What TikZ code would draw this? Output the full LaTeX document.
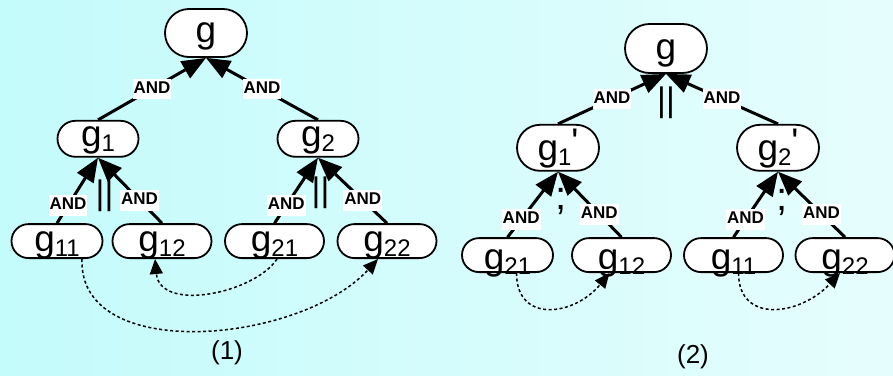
\documentclass[tikz,border=0pt]{standalone}
\usepackage{fontspec}
\setmainfont{Liberation Sans}
\usetikzlibrary{positioning,backgrounds,shapes.misc,arrows.meta}

\definecolor{bgleft}{RGB}{196,251,251}
\definecolor{bgright}{RGB}{230,253,253}

\newcommand{\gsub}[1]{\raisebox{-5pt}{\fontsize{24}{24}\selectfont #1}}
\newcommand{\gprime}{\raisebox{6pt}{\textquotesingle}}

\begin{document}
\begin{tikzpicture}[x=1pt,y=-1pt,
    goal/.style={rounded rectangle,draw,line width=1.8pt,fill=white,inner sep=0pt,
      text depth=2pt,font=\fontsize{37}{37}\selectfont},
    top/.style={goal,minimum width=82pt,minimum height=48pt,text height=20pt},
    mid/.style={goal,minimum width=81pt,minimum height=36pt,text height=18pt},
    leaf/.style={goal,minimum width=99pt,minimum height=34pt,text height=23pt},
    andedge/.style={line width=3pt,-{Triangle[length=24pt,width=19pt]}},
    andlabel/.style={fill=white,inner xsep=1pt,inner ysep=3pt,text depth=3pt,
      font=\fontsize{17}{17}\selectfont\bfseries},
    link/.style={line width=1.5pt,dash pattern=on 3pt off 2.5pt,
      -{Triangle[length=15pt,width=13pt]}},
    sign/.style={font=\fontsize{34}{34}\selectfont},
    figlabel/.style={font=\fontsize{26}{26}\selectfont}]
    \useasboundingbox (0,0) rectangle (893,375);

    % tree (1)
    \node[top] (g) at (206,33) {g};
    \node[mid,below=62pt of g,xshift=-108pt] (g1) {g\gsub{1}};
    \node[mid,below=62pt of g,xshift=112pt] (g2) {g\gsub{2}};
    \node[leaf,minimum width=91pt,below=65.5pt of g1,xshift=-41pt] (g11) {g\gsub{11}};
    \node[leaf,below=65.5pt of g1,xshift=64pt] (g12) {g\gsub{12}};
    \node[leaf,below=65.5pt of g2,xshift=-43.5pt] (g21) {g\gsub{21}};
    \node[leaf,below=65.5pt of g2,xshift=69pt] (g22) {g\gsub{22}};

    \draw[andedge] (g1.north) -- node[andlabel]{AND} (g.south);
    \draw[andedge] (g2.north) -- node[andlabel]{AND} (g.south);
    \draw[andedge] (g11.north) -- node[andlabel,pos=.27]{AND} (g1.south);
    \draw[andedge] (g12.north) -- node[andlabel,pos=.35]{AND} (g1.south);
    \draw[andedge] (g21.north) -- node[andlabel,pos=.27]{AND} (g2.south);
    \draw[andedge] (g22.north) -- node[andlabel,pos=.35]{AND} (g2.south);

    \node[sign] (par1) at (104.5,195.5) {||};
    \node[sign] (par2) at (320.5,192.5) {||};

    \draw[link] ([xshift=2.5pt]g21.south) .. controls +(-22,34) and +(5,54) .. ([xshift=-7pt]g12.south);
    \draw[link] ([xshift=25pt]g11.south) .. controls +(-4,105) and +(-78,85) .. ([xshift=-9pt]g22.south);

    \node[figlabel] (cap1) at (227,353) {(1)};

    % tree (2)
    \node[top,minimum height=49pt,text height=23pt] (gg) at (666,48.5) {g};
    \node[mid,minimum width=82pt,minimum height=46pt,text height=28pt,below=50pt of gg,xshift=-108pt] (gg1) {g\gsub{1}\gprime};
    \node[mid,minimum width=82pt,minimum height=46pt,text height=28pt,below=50pt of gg,xshift=112pt] (gg2) {g\gsub{2}\gprime};
    \node[leaf,minimum width=91pt,text height=30pt,below=65.5pt of gg1,xshift=-50.5pt] (gg21) {g\gsub{21}};
    \node[leaf,text height=30pt,below=65.5pt of gg1,xshift=63.5pt] (gg12) {g\gsub{12}};
    \node[leaf,text height=30pt,below=65.5pt of gg2,xshift=-44.5pt] (gg11) {g\gsub{11}};
    \node[leaf,text height=30pt,below=65.5pt of gg2,xshift=67pt] (gg22) {g\gsub{22}};

    \draw[andedge] (gg1.north) -- node[andlabel]{AND} (gg.south);
    \draw[andedge] (gg2.north) -- node[andlabel]{AND} (gg.south);
    \draw[andedge] (gg21.north) -- node[andlabel,pos=.27]{AND} (gg1.south);
    \draw[andedge] (gg12.north) -- node[andlabel,pos=.35]{AND} (gg1.south);
    \draw[andedge] (gg11.north) -- node[andlabel,pos=.27]{AND} (gg2.south);
    \draw[andedge] (gg22.north) -- node[andlabel,pos=.35]{AND} (gg2.south);

    \node[sign] (par3) at (666,102.5) {||};
    \node[sign,font=\fontsize{40}{40}\selectfont] (seq1) at (561,201) {;};
    \node[sign,font=\fontsize{40}{40}\selectfont] (seq2) at (782,202) {;};

    \draw[link] ([xshift=9pt]gg21.south) .. controls +(0,51) and +(-35,43) .. ([xshift=-12pt]gg12.south);
    \draw[link] ([xshift=5pt]gg11.south) .. controls +(0,51) and +(-40,43) .. ([xshift=-5pt]gg22.south);

    \node[figlabel] (cap2) at (693,357) {(2)};

    \begin{pgfonlayer}{background}
        \shade[left color=bgleft,right color=bgright] (0,0) rectangle (893,375);
    \end{pgfonlayer}
\end{tikzpicture}
\end{document}
